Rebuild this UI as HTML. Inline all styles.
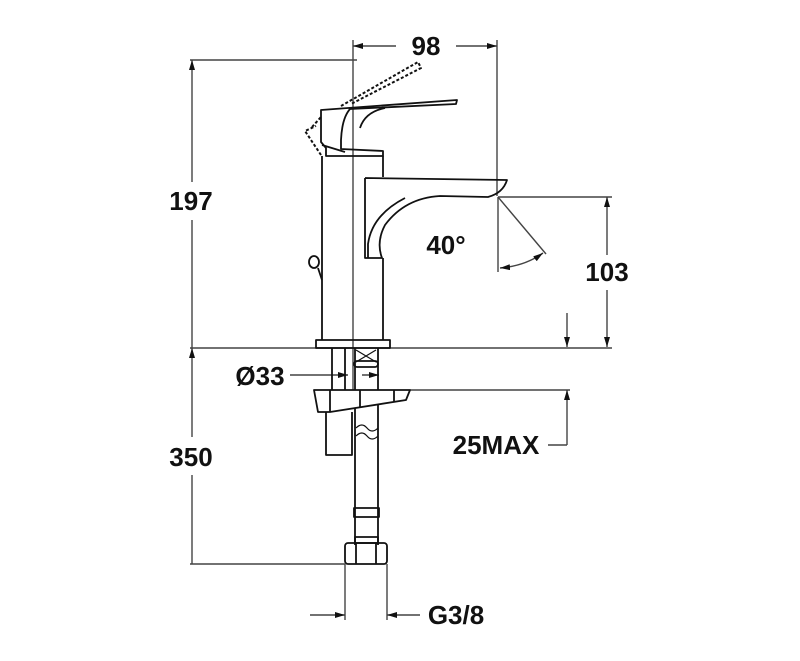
<!DOCTYPE html>
<html><head><meta charset="utf-8"><style>html,body{margin:0;padding:0;background:#fff}svg{display:block}</style></head>
<body>
<svg width="800" height="661" viewBox="0 0 800 661" xmlns="http://www.w3.org/2000/svg">
<defs>
<marker id="a" viewBox="0 0 10 6" refX="10" refY="3" markerWidth="10" markerHeight="6" orient="auto-start-reverse" markerUnits="userSpaceOnUse"><path d="M0,0L10,3L0,6z" fill="#111"/></marker>
</defs>
<g fill="none" stroke="#444" stroke-width="1.4">
<line x1="190" y1="60" x2="357" y2="60"/>
<line x1="192" y1="60" x2="192" y2="182" marker-start="url(#a)"/>
<line x1="192" y1="220" x2="192" y2="348"/>
<line x1="190" y1="348" x2="612" y2="348" stroke-width="1.6"/>
<line x1="192" y1="348" x2="192" y2="437" marker-start="url(#a)"/>
<line x1="192" y1="475" x2="192" y2="564"/>
<line x1="190" y1="564" x2="345" y2="564"/>
<line x1="353" y1="40" x2="353" y2="390"/>
<line x1="497" y1="40" x2="497" y2="196"/>
<line x1="353" y1="46" x2="396" y2="46" marker-start="url(#a)"/>
<line x1="456" y1="46" x2="497" y2="46" marker-end="url(#a)"/>
<line x1="498" y1="197" x2="612" y2="197"/>
<line x1="607" y1="197" x2="607" y2="255" marker-start="url(#a)"/>
<line x1="607" y1="290" x2="607" y2="347" marker-end="url(#a)"/>
<line x1="498" y1="197" x2="498" y2="272"/>
<line x1="498" y1="197" x2="546" y2="254"/>
<path d="M500,268 Q525,266 543,253" marker-start="url(#a)" marker-end="url(#a)"/>
<line x1="567" y1="313" x2="567" y2="347" marker-end="url(#a)"/>
<line x1="410" y1="390" x2="570" y2="390"/>
<line x1="567" y1="390" x2="567" y2="445" marker-start="url(#a)"/>
<line x1="548" y1="445" x2="567" y2="445"/>
<line x1="290" y1="375" x2="348" y2="375" marker-end="url(#a)"/>
<line x1="362" y1="375" x2="379" y2="375" marker-end="url(#a)"/>
<line x1="345" y1="564" x2="345" y2="620"/>
<line x1="387" y1="564" x2="387" y2="620"/>
<line x1="310" y1="615" x2="345" y2="615" marker-end="url(#a)"/>
<line x1="387" y1="615" x2="420" y2="615" marker-start="url(#a)"/>
</g>
<g fill="none" stroke="#111" stroke-width="1.8" stroke-linejoin="round">
<line x1="322" y1="156" x2="322" y2="340"/>
<line x1="383" y1="156" x2="383" y2="177"/>
<line x1="383" y1="258" x2="383" y2="340"/>
<rect x="316" y="340" width="74" height="8"/>
<path d="M321,110 L457,100 L456,104 L350,109 Q342,118 341,140 L341,149 L383,151 L383,156 L326,156 L326,148 L321,142 Z"/>
<path d="M360,128 Q365,112 385,108"/>
<path d="M322,145 L345,152"/>
<path d="M312,127 L321,117 M321,155 L305,131 L316,126 M341,106 L418,62 L421,68 L351,104" stroke-dasharray="3,2" stroke-width="2"/>
<path d="M365,178 L507,180 Q503,193 488,197 L440,196 Q405,198 385,225 Q376,242 382,258 L368,258 L368,244 Q372,215 405,198 M365,178 L365,258 L370,258"/>
<ellipse cx="314" cy="262" rx="5" ry="6"/>
<line x1="318" y1="268" x2="322" y2="280"/>
<line x1="332" y1="348" x2="332" y2="390"/>
<line x1="345" y1="348" x2="345" y2="390"/>
<line x1="355" y1="348" x2="355" y2="390"/>
<line x1="378" y1="348" x2="378" y2="390"/>
<path d="M356,350 L376,362 M376,350 L356,362" stroke-width="1.2"/>
<rect x="354" y="361" width="24" height="6" rx="3"/>
<path d="M314,390 L410,390 L406,400 L330,412 L318,412 Z"/>
<line x1="330" y1="390" x2="330" y2="412"/>
<line x1="360" y1="390" x2="360" y2="408"/>
<line x1="394" y1="390" x2="394" y2="402"/>
<path d="M326,412 L326,455 L352,455 L352,412"/>
<line x1="355" y1="408" x2="355" y2="545"/>
<line x1="378" y1="404" x2="378" y2="545"/>
<path d="M356,428 Q362,422 367,428 Q372,434 378,428 M356,436 Q362,430 367,436 Q372,442 378,436" stroke-width="1.2"/>
<rect x="354" y="508" width="25" height="9"/>
<rect x="355" y="537" width="23" height="6"/>
<rect x="345" y="543" width="42" height="21" rx="3"/>
<line x1="356" y1="543" x2="356" y2="564"/>
<line x1="376" y1="543" x2="376" y2="564"/>
</g>
<g font-family="Liberation Sans, sans-serif" font-weight="bold" font-size="26" fill="#111" text-anchor="middle">
<text x="191" y="210">197</text>
<text x="191" y="466">350</text>
<text x="426" y="55">98</text>
<text x="607" y="281">103</text>
<text x="446" y="254">40°</text>
<text x="260" y="385">Ø33</text>
<text x="496" y="454">25MAX</text>
<text x="456" y="624">G3/8</text>
</g>
</svg>
</body></html>
